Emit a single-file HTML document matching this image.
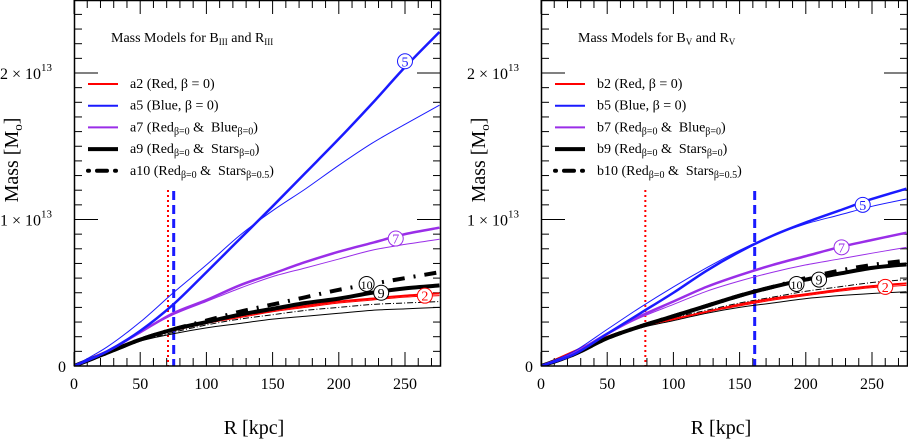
<!DOCTYPE html>
<html><head><meta charset="utf-8">
<style>
html,body{margin:0;padding:0;background:#fff;}
svg{display:block;font-family:"Liberation Serif",serif;}
</style></head>
<body>
<svg id="chart" width="908" height="441" viewBox="0 0 908 441" xmlns="http://www.w3.org/2000/svg"></svg>
<script>
// ---- data (mass in units of 1e13 Msun) ----
const radii = [0,25,50,75,100,125,150,175,200,225,250,276];
const leftTitle = ["Mass Models for B","III"," and R","III"];
const rightTitle = ["Mass Models for B","V"," and R","V"];
// Left panel
const a5Thick = [0,0.1,0.24,0.42,0.64,0.865,1.09,1.32,1.55,1.79,2.04,2.28];
const a5Thin  = [0,0.13,0.3,0.5,0.69,0.89,1.06,1.21,1.37,1.52,1.65,1.78];
const a7Thick = [0,0.1,0.23,0.36,0.45,0.55,0.63,0.71,0.78,0.84,0.9,0.944];
const a7Thin  = [0,0.1,0.23,0.35,0.44,0.53,0.61,0.67,0.73,0.79,0.83,0.865];
const a9Thick = [0,0.09,0.18,0.25,0.3,0.35,0.39,0.43,0.46,0.5,0.53,0.55];
const a10Dash = [0,0.09,0.18,0.25,0.31,0.37,0.42,0.47,0.52,0.56,0.6,0.64];
const a2Thick = [0,0.1,0.18,0.245,0.3,0.34,0.38,0.41,0.44,0.46,0.48,0.496];
const a2Thin  = [0,0.1,0.18,0.24,0.29,0.33,0.37,0.4,0.43,0.45,0.47,0.48];
const a9Thin  = [0,0.09,0.17,0.22,0.26,0.29,0.32,0.34,0.36,0.38,0.39,0.40];
const a10Thin = [0,0.09,0.17,0.23,0.28,0.32,0.35,0.38,0.4,0.42,0.43,0.44];
// Right panel
const b5Thick = [0,0.08,0.22,0.36,0.5,0.65,0.78,0.89,0.98,1.06,1.14,1.21];
const b5Thin  = [0,0.1,0.25,0.4,0.54,0.67,0.79,0.89,0.97,1.03,1.09,1.14];
const b7Thick = [0,0.09,0.22,0.34,0.44,0.54,0.62,0.69,0.75,0.81,0.86,0.91];
const b7Thin  = [0,0.09,0.22,0.33,0.42,0.51,0.58,0.64,0.69,0.73,0.77,0.81];
const b9Thick = [0,0.08,0.19,0.27,0.34,0.41,0.48,0.54,0.59,0.63,0.67,0.694];
const b10Dash = [0,0.08,0.19,0.27,0.34,0.41,0.48,0.54,0.6,0.65,0.69,0.72];
const b2Thick = [0,0.1,0.2,0.27,0.32,0.37,0.42,0.46,0.49,0.52,0.545,0.564];
const b2Thin  = [0,0.1,0.2,0.27,0.32,0.37,0.41,0.45,0.48,0.51,0.535,0.55];
const b9Thin  = [0,0.09,0.19,0.26,0.31,0.36,0.4,0.43,0.46,0.48,0.495,0.507];
const b10Thin = [0,0.09,0.19,0.27,0.33,0.38,0.43,0.47,0.51,0.54,0.57,0.59];
const xTicks = [0,50,100,150,200,250];
const yTickLabels = ["0","1","2"];
const leftVlines = [71,75.3];
const rightVlines = [78.8,161.4];
const leftLegend = ["a2","a5","a7","a9","a10"];
const rightLegend = ["b2","b5","b7","b9","b10"];
const leftMarkers = [["5",250,"#1a1aff"],["7",243,"#9a2ee8"],["10",221,"#000"],["9",232,"#000"],["2",265,"#ff0000"]];
const leftMarkerVals = [2.08,0.87,0.56,0.50,0.48];
const rightMarkers = [["5",243,"#1a1aff"],["7",227,"#9a2ee8"],["10",193,"#000"],["9",210,"#000"],["2",260,"#ff0000"]];
const rightMarkerVals = [1.1,0.81,0.56,0.59,0.54];

const NS="http://www.w3.org/2000/svg";
const svg=document.getElementById('chart');
function mk(tag,attrs,parent){const e=document.createElementNS(NS,tag);for(const k in attrs)e.setAttribute(k,attrs[k]);(parent||svg).appendChild(e);return e;}

const BLUE="#1a1aff",RED="#ff0000",PURP="#9a2ee8",BLK="#000";
function panel(x0,name,title,series,vl,legend,markers,markerVals){
  const W=367, top=0, bot=366, xMax=W/1.324;
  const sx=r=>x0+r*1.324, sy=m=>bot-m*146.5;
  const g=mk('g',{});
  
  
  const cid='clip'+name;
  const cp=mk('clipPath',{id:cid},g);mk('rect',{x:x0,y:top,width:W,height:bot-top},cp);
  const tg=mk('g',{stroke:'#000','stroke-width':1},g);
  
  for(let r=0;r<=xMax;r+=10){const x=sx(r),L=(r%50===0)?14:8;
    mk('line',{x1:x,y1:bot,x2:x,y2:bot-L},tg);mk('line',{x1:x,y1:top,x2:x,y2:top+L},tg);}
  for(let i=0;i<=25;i++){const y=sy(i/10),L=(i%10===0)?24:8;
    mk('line',{x1:x0,y1:y,x2:x0+L,y2:y},tg);mk('line',{x1:x0+W,y1:y,x2:x0+W-L,y2:y},tg);}
  mk('line',{x1:sx(vl[0]),y1:190,x2:sx(vl[0]),y2:bot,stroke:RED,'stroke-width':2,'stroke-dasharray':'2,3'},g);
  mk('line',{x1:sx(vl[1]),y1:191,x2:sx(vl[1]),y2:bot,stroke:BLUE,'stroke-width':3,'stroke-dasharray':'9,5'},g);
  const sgrp=mk('g',{'clip-path':'url(#'+cid+')',fill:'none'},g);
  series.forEach(s=>{
    const pts=radii.map((r,i)=>[sx(r),sy(s.v[i])]);
    let d='M'+pts[0][0]+','+pts[0][1];
    for(let i=0;i<pts.length-1;i++){
      const p0=pts[Math.max(0,i-1)],p1=pts[i],p2=pts[i+1],p3=pts[Math.min(pts.length-1,i+2)];
      d+=' C'+(p1[0]+(p2[0]-p0[0])/6)+','+(p1[1]+(p2[1]-p0[1])/6)+' '+(p2[0]-(p3[0]-p1[0])/6)+','+(p2[1]-(p3[1]-p1[1])/6)+' '+p2[0]+','+p2[1];
    }
    const p=mk('path',{d:d,stroke:s.c,'stroke-width':s.w},sgrp);
    if(s.dash)p.setAttribute('stroke-dasharray',s.dash);
    
    
  });
  mk('rect',{x:x0+0.5,y:0.5,width:W-1,height:bot-0.5,fill:'none',stroke:'#000','stroke-width':1.5},g);
  xTicks.forEach(r=>{const t=mk('text',{x:sx(r),y:389,'font-size':16,'text-anchor':'middle'},g);t.textContent=r;});
  yTickLabels.forEach((lab,i)=>{
    const t=mk('text',{x:x0-8,y:sy(i)+6,'font-size':16,'text-anchor':'end'},g);
    
    if(lab==="0"){t.textContent="0";}
    else{t.setAttribute('x',x0-74);t.setAttribute('text-anchor','start');
      t.innerHTML=lab+' \u00d7 10<tspan dy="-8" font-size="11">13</tspan>';}
  });
  const xt=mk('text',{x:x0+180,y:434,'font-size':20,'text-anchor':'middle'},g);xt.textContent='R [kpc]';
  const yt=mk('text',{x:0,y:0,'font-size':20,'text-anchor':'middle',transform:'translate('+(x0-56)+',160) rotate(-90)'},g);
  yt.innerHTML='Mass [M<tspan font-size="13" dy="4">o</tspan><tspan dy="-4">]</tspan>';
  const tt=mk('text',{x:x0+37,y:42,'font-size':14},g);
  tt.innerHTML=title[0]+'<tspan font-size="9" dy="3">'+title[1]+'</tspan><tspan dy="-3">'+title[2]+'</tspan><tspan font-size="9" dy="3">'+title[3]+'</tspan>';
  
  const lg=mk('g',{},g);
  const labs=[
    ' (Red, \u03b2 = 0)',' (Blue, \u03b2 = 0)',
    ' (Red<tspan font-size="10" dy="3">\u03b2=0</tspan><tspan dy="-3"> &amp;\u00a0 Blue</tspan><tspan font-size="10" dy="3">\u03b2=0</tspan><tspan dy="-3">)</tspan>',
    ' (Red<tspan font-size="10" dy="3">\u03b2=0</tspan><tspan dy="-3"> &amp;\u00a0 Stars</tspan><tspan font-size="10" dy="3">\u03b2=0</tspan><tspan dy="-3">)</tspan>',
    ' (Red<tspan font-size="10" dy="3">\u03b2=0</tspan><tspan dy="-3"> &amp;\u00a0 Stars</tspan><tspan font-size="10" dy="3">\u03b2=0.5</tspan><tspan dy="-3">)</tspan>'];
  const st=[[RED,2,null],[BLUE,2,null],[PURP,2,null],[BLK,4,null],[BLK,4,'1,8,10,8']];
  legend.forEach((n,i)=>{
    const y=84+i*21.7;
    const e=mk('g',{},lg);
    const l=mk('line',{x1:x0+14,y1:y,x2:x0+44,y2:y,stroke:st[i][0],'stroke-width':st[i][1],'stroke-linecap':i===4?'round':'butt'},e);
    if(st[i][2])l.setAttribute('stroke-dasharray',st[i][2]);
    const t=mk('text',{x:x0+56,y:y+4,'font-size':14},e);t.innerHTML=n+labs[i];
  });
  markers.forEach((m,i)=>{
    const cx=sx(m[1]),cy=sy(markerVals[i]);
    const e=mk('g',{},g);
    mk('circle',{cx:cx,cy:cy,r:7.5,fill:'#fff',stroke:m[2],'stroke-width':1},e);
    const t=mk('text',{x:cx,y:cy+5,'font-size':m[0].length>1?12:14,'text-anchor':'middle',fill:m[2]},e);t.textContent=m[0];
  });
}
function S(n,v,c,w,dash){return {n:n,v:v,c:c,w:w,dash:dash};}
panel(74,'left-panel',leftTitle,[
  S('a9-thin',a9Thin,BLK,1),S('a10-thin',a10Thin,BLK,1,'6,2,1,2'),
  S('a2-thin',a2Thin,RED,1),S('a2-thick',a2Thick,RED,2),
  S('a9-thick',a9Thick,BLK,4),S('a10-dashdot',a10Dash,BLK,4,'2,9,12,9'),
  S('a7-thin',a7Thin,PURP,1),S('a7-thick',a7Thick,PURP,2.5),
  S('a5-thin',a5Thin,BLUE,1),S('a5-thick',a5Thick,BLUE,2.5)
],leftVlines,leftLegend,leftMarkers,leftMarkerVals);
panel(541,'right-panel',rightTitle,[
  S('b9-thin',b9Thin,BLK,1),S('b10-thin',b10Thin,BLK,1,'6,2,1,2'),
  S('b2-thin',b2Thin,RED,1),S('b2-thick',b2Thick,RED,2),
  S('b9-thick',b9Thick,BLK,4),S('b10-dashdot',b10Dash,BLK,4,'2,9,12,9'),
  S('b7-thin',b7Thin,PURP,1),S('b7-thick',b7Thick,PURP,2.5),
  S('b5-thin',b5Thin,BLUE,1),S('b5-thick',b5Thick,BLUE,2.5)
],rightVlines,rightLegend,rightMarkers,rightMarkerVals);
</script>
</body></html>
